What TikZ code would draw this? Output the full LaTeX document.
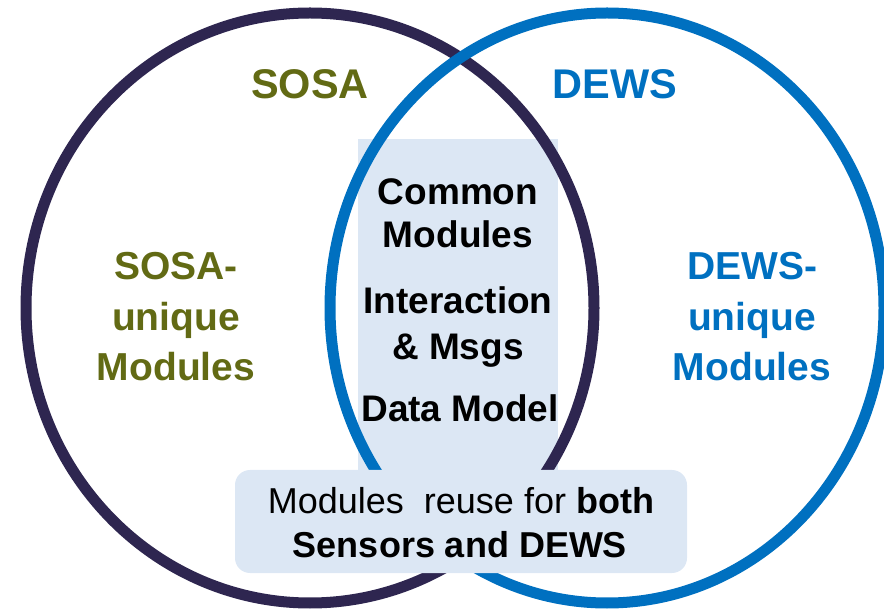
\documentclass[tikz,border=0pt]{standalone}
\usepackage{fontspec}
\setmainfont{Liberation Sans}
\definecolor{sosaNavy}{HTML}{2E2650}
\definecolor{dewsBlue}{HTML}{0070C0}
\definecolor{sosaOlive}{HTML}{626A14}
\definecolor{paleBlue}{HTML}{DCE7F4}
\begin{document}
\begin{tikzpicture}[x=1pt,y=-1pt,
  txt/.style={anchor=base, inner sep=0pt},
  title/.style={txt, font=\bfseries\fontsize{41.5}{45}\selectfont},
  side/.style={txt, font=\bfseries\fontsize{39}{42}\selectfont},
  core/.style={txt, font=\bfseries\fontsize{37}{40}\selectfont},
  note/.style={txt, font=\fontsize{36}{40}\selectfont},
  ring/.style={line width=11pt}]
\useasboundingbox (0,0) rectangle (884,609);
\clip (0,0) rectangle (884,609);

% shaded overlap band
\fill[paleBlue] (358,139) rectangle (558,478);

% the two sets
\draw[ring, sosaNavy] (310,308) ellipse [x radius=284pt, y radius=295pt];
\draw[ring, dewsBlue] (607,308) ellipse [x radius=277pt, y radius=295pt];

% reuse note box
\node[fill=paleBlue, rounded corners=15pt, minimum width=452pt, minimum height=103pt, inner sep=0pt] (reusebox) at (461,521.5) {};

% set titles
\node[title, text=sosaOlive] (sosa) at (310,99) {SOSA};
\node[title, text=dewsBlue] (dews) at (615,99) {DEWS};

% unique-module labels
\node[side, text=sosaOlive] (su1) at (176,280) {SOSA-};
\node[side, text=sosaOlive] (su2) at (176,331) {unique};
\node[side, text=sosaOlive] (su3) at (176,381) {Modules};
\node[side, text=dewsBlue] (du1) at (752,280) {DEWS-};
\node[side, text=dewsBlue] (du2) at (752,331) {unique};
\node[side, text=dewsBlue] (du3) at (752,381) {Modules};

% shared modules
\node[core] (c1) at (458,205) {Common};
\node[core] (c2) at (458,248) {Modules};
\node[core] (c3) at (458,314) {Interaction};
\node[core] (c4) at (458,360) {\& Msgs};
\node[core] (c5) at (460,422) {Data Model};

% reuse note text
\node[note] (r1) at (461,513) {Modules\ \ reuse for \textbf{both}};
\node[note] (r2) at (460,557) {\textbf{Sensors and DEWS}};
\end{tikzpicture}
\end{document}
